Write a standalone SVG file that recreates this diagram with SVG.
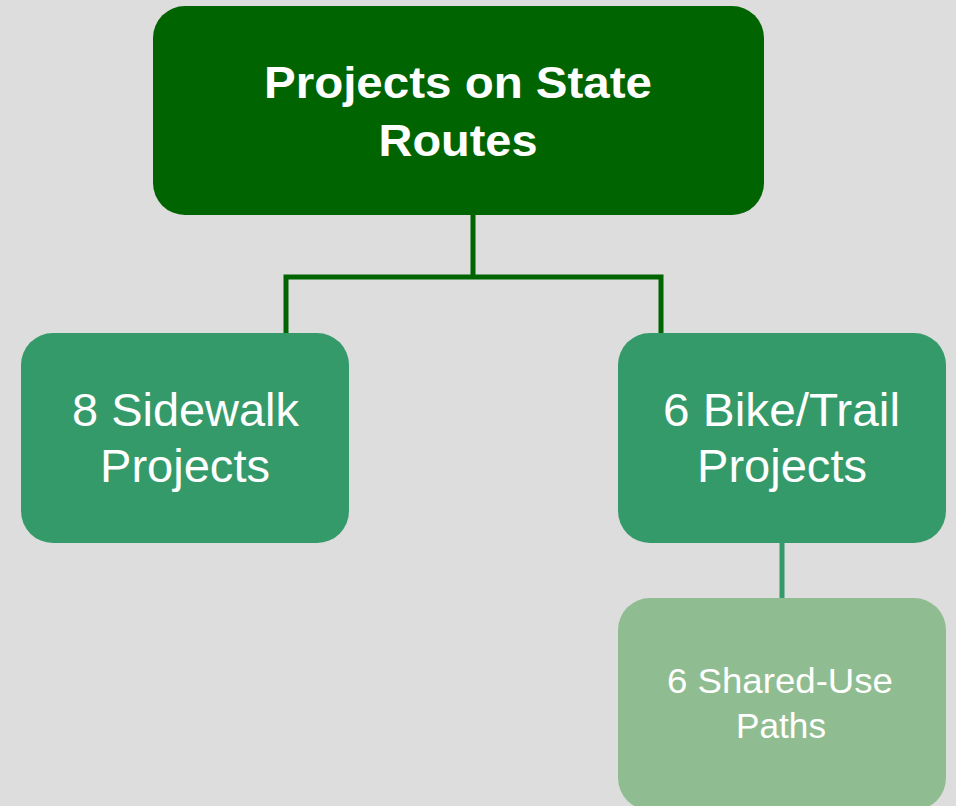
<svg xmlns="http://www.w3.org/2000/svg" width="956" height="806" viewBox="0 0 956 806">
  <style>
    .bg { fill: #dddddd; }
    .top { fill: #006400; }
    .mid { fill: #359a6a; }
    .leaf { fill: #8fbd91; }
    .lbl { fill: #ffffff; font-family: "Liberation Sans", Arial, sans-serif; text-anchor: middle; }
    .big { font-size: 46px; }
    .bold { font-size: 45px; font-weight: bold; }
    .small { font-size: 35px; }
    .wire-dark { stroke: #006400; stroke-width: 5; fill: none; }
    .wire-mid { stroke: #359a6a; stroke-width: 5; fill: none; }
  </style>
  <rect class="bg" x="0" y="0" width="956" height="806"/>

  <g id="connectors">
    <path class="wire-dark" d="M473 214 V277 M283.5 277 H663.5 M286 277 V334 M661 277 V334"/>
    <path class="wire-mid" d="M782 542 V599"/>
  </g>

  <g id="node-state-routes">
    <rect class="top" x="153" y="6" width="611" height="209" rx="32"/>
    <text class="lbl bold" x="458" y="98" textLength="388" lengthAdjust="spacingAndGlyphs">Projects on State</text>
    <text class="lbl bold" x="458" y="156" textLength="159" lengthAdjust="spacingAndGlyphs">Routes</text>
  </g>

  <g id="node-sidewalk">
    <rect class="mid" x="21" y="333" width="328" height="210" rx="32"/>
    <text class="lbl big" x="185.5" y="426" textLength="227" lengthAdjust="spacingAndGlyphs">8 Sidewalk</text>
    <text class="lbl big" x="185" y="482" textLength="170" lengthAdjust="spacingAndGlyphs">Projects</text>
  </g>

  <g id="node-bike-trail">
    <rect class="mid" x="618" y="333" width="328" height="210" rx="32"/>
    <text class="lbl big" x="781.5" y="426" textLength="237" lengthAdjust="spacingAndGlyphs">6 Bike/Trail</text>
    <text class="lbl big" x="782" y="482" textLength="170" lengthAdjust="spacingAndGlyphs">Projects</text>
  </g>

  <g id="node-shared-use">
    <rect class="leaf" x="618" y="598" width="328" height="212" rx="32"/>
    <text class="lbl small" x="780" y="693" textLength="226" lengthAdjust="spacingAndGlyphs">6 Shared-Use</text>
    <text class="lbl small" x="781" y="738" textLength="90" lengthAdjust="spacingAndGlyphs">Paths</text>
  </g>
</svg>
